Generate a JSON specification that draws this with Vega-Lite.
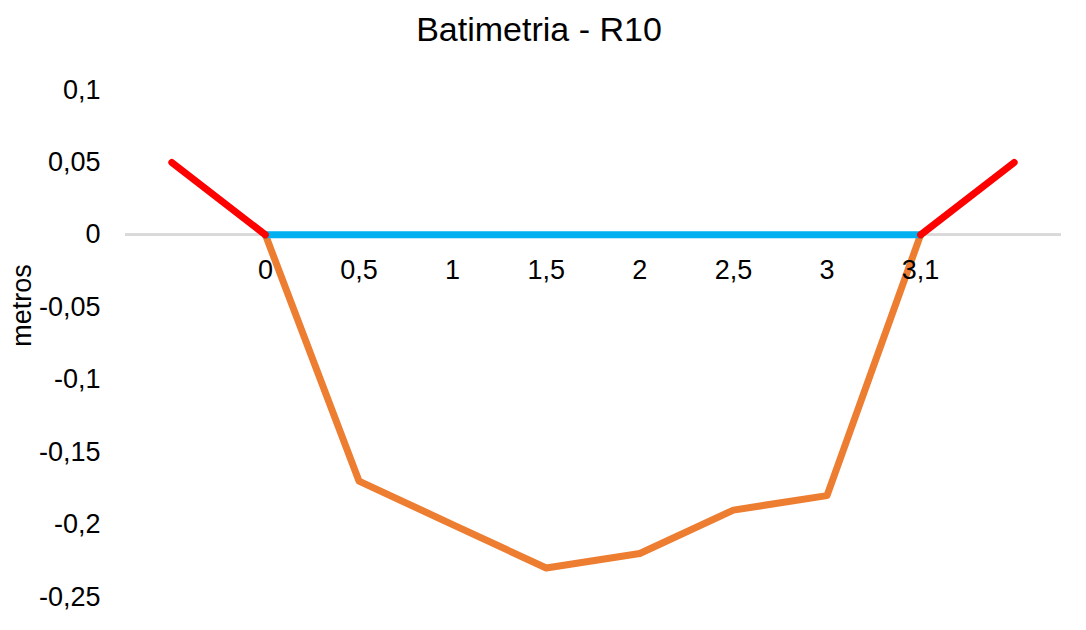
{
  "$schema": "https://vega.github.io/schema/vega-lite/v6.json",
  "width": 936,
  "height": 507,
  "autosize": {"type": "none"},
  "padding": {"left": 125, "top": 90, "right": 25, "bottom": 33},
  "background": "white",
  "config": {
    "view": {"stroke": null},
    "font": "Liberation Sans"
  },
  "title": {
    "text": "Batimetria - R10",
    "fontSize": 34,
    "fontWeight": "normal",
    "color": "#000000",
    "font": "Liberation Sans",
    "anchor": "middle",
    "baseline": "alphabetic",
    "offset": 1,
    "dx": -54
  },
  "data": {
    "values": [
      {"serie": "orange", "cat": "0", "v": 0},
      {"serie": "orange", "cat": "0,5", "v": -0.17},
      {"serie": "orange", "cat": "1", "v": -0.2},
      {"serie": "orange", "cat": "1,5", "v": -0.23},
      {"serie": "orange", "cat": "2", "v": -0.22},
      {"serie": "orange", "cat": "2,5", "v": -0.19},
      {"serie": "orange", "cat": "3", "v": -0.18},
      {"serie": "orange", "cat": "3,1", "v": 0},
      {"serie": "blue", "cat": "0", "v": 0},
      {"serie": "blue", "cat": "3,1", "v": 0},
      {"serie": "red", "seg": "L", "cat": "a", "v": 0.05},
      {"serie": "red", "seg": "L", "cat": "0", "v": 0},
      {"serie": "red", "seg": "R", "cat": "3,1", "v": 0},
      {"serie": "red", "seg": "R", "cat": "b", "v": 0.05}
    ]
  },
  "encoding": {
    "x": {
      "field": "cat",
      "type": "nominal",
      "sort": null,
      "scale": {"type": "point", "domain": ["a", "0", "0,5", "1", "1,5", "2", "2,5", "3", "3,1", "b"], "padding": 0.5},
      "axis": null
    },
    "y": {
      "field": "v",
      "type": "quantitative",
      "scale": {"domain": [-0.25, 0.1], "nice": false, "zero": false},
      "axis": {
        "values": [0.1, 0.05, 0, -0.05, -0.1, -0.15, -0.2, -0.25],
        "labelExpr": "replace(replace(format(datum.value, '.2~f'), '.', ','), '\u2212', '-')",
        "domain": false,
        "ticks": false,
        "grid": false,
        "labelPadding": 25,
        "labelFontSize": 27,
        "labelColor": "#000000",
        "labelFont": "Liberation Sans",
        "title": "metros",
        "titleFontSize": 27,
        "titleFontWeight": "normal",
        "titleColor": "#000000",
        "titleFont": "Liberation Sans",
        "titleAngle": 270,
        "titleAlign": "center",
        "titleBaseline": "middle",
        "titleX": -103,
        "titleY": 215
      }
    }
  },
  "layer": [
    {
      "mark": {"type": "rule", "color": "#D9D9D9", "strokeWidth": 2},
      "encoding": {"y": {"datum": 0}, "x": null}
    },
    {
      "transform": [{"filter": "datum.serie == 'orange'"}],
      "mark": {"type": "line", "color": "#ED7D31", "strokeWidth": 7, "strokeCap": "round", "strokeJoin": "round"}
    },
    {
      "transform": [{"filter": "datum.serie == 'blue'"}],
      "mark": {"type": "line", "color": "#00B0F0", "strokeWidth": 7, "strokeCap": "round", "strokeJoin": "round"}
    },
    {
      "transform": [{"filter": "datum.serie == 'red'"}],
      "mark": {"type": "line", "color": "#FF0000", "strokeWidth": 7, "strokeCap": "round", "strokeJoin": "round"},
      "encoding": {"detail": {"field": "seg"}}
    },
    {
      "transform": [{"filter": "datum.serie == 'orange'"}],
      "mark": {"type": "text", "fontSize": 27, "color": "#000000", "font": "Liberation Sans", "baseline": "middle", "align": "center", "dy": 36},
      "encoding": {"y": {"datum": 0}, "text": {"field": "cat"}}
    }
  ]
}
